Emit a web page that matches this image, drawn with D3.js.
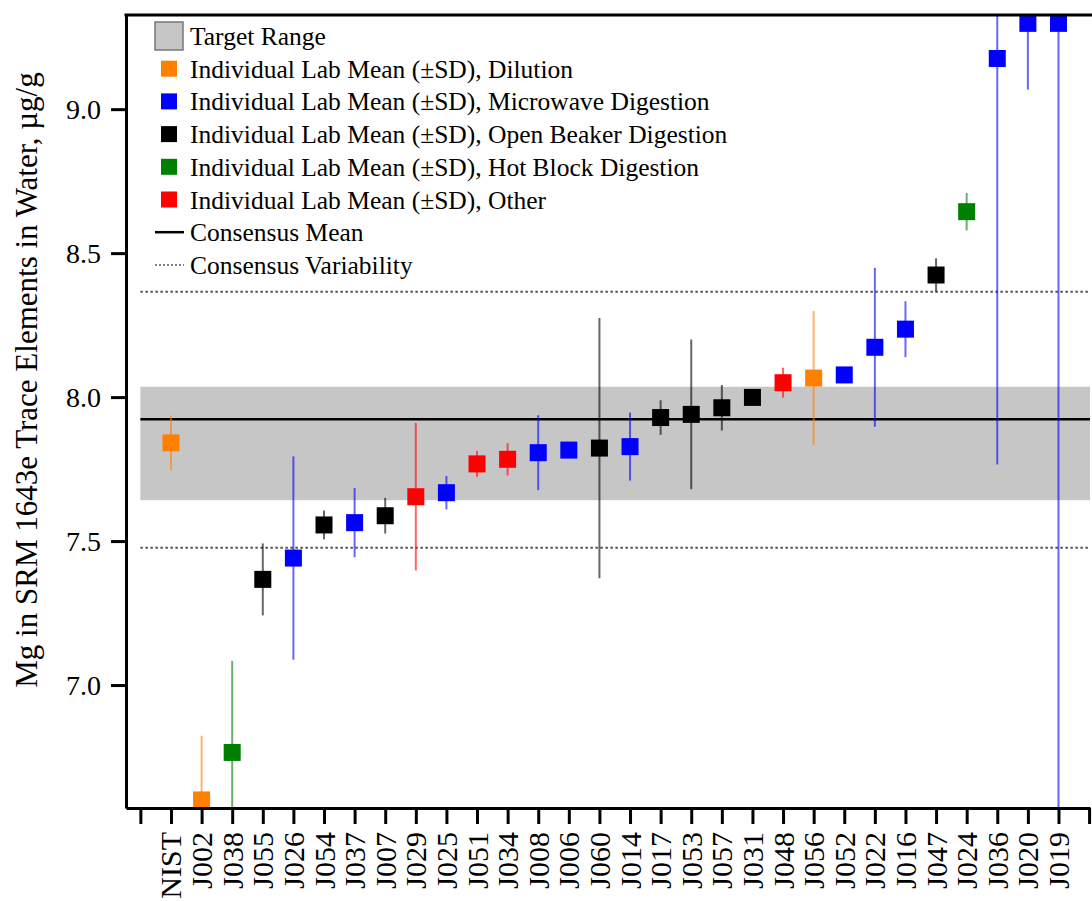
<!DOCTYPE html>
<html>
<head>
<meta charset="utf-8">
<script src="https://cdn.jsdelivr.net/npm/d3@7"></script>
<style>
  html, body { margin: 0; padding: 0; background: #fff; }
  svg { display: block; font-family: "Liberation Serif", "Times New Roman", serif; }
</style>
</head>
<body>
<svg id="chart" width="1092" height="901"></svg>
<script>
// ---- Data ----
const labs = ["NIST","J002","J038","J055","J026","J054","J037","J007","J029","J025",
  "J051","J034","J008","J006","J060","J014","J017","J053","J057","J031",
  "J048","J056","J052","J022","J016","J047","J024","J036","J020","J019"];
const methods = ["Dilution","Dilution","Hot Block","Open Beaker","Microwave","Open Beaker","Microwave","Open Beaker","Other","Microwave",
  "Other","Other","Microwave","Microwave","Open Beaker","Microwave","Open Beaker","Open Beaker","Open Beaker","Open Beaker",
  "Other","Dilution","Microwave","Microwave","Microwave","Open Beaker","Hot Block","Microwave","Microwave","Microwave"];
const means = [7.841,6.601,6.766,7.367,7.441,7.556,7.564,7.588,7.654,7.668,
  7.768,7.784,7.807,7.816,7.823,7.828,7.929,7.940,7.963,7.999,
  8.050,8.066,8.077,8.173,8.236,8.424,8.644,9.176,9.298,9.298];
const sds = [0.095,0.223,0.318,0.125,0.353,0.050,0.120,0.062,0.256,0.058,
  0.045,0.056,0.130,0.010,0.452,0.118,0.060,0.260,0.079,0.010,
  0.052,0.233,0.010,0.276,0.097,0.058,0.065,1.410,0.230,3.000];

const methodNames = ["Dilution","Microwave","Open Beaker","Hot Block","Other"];
const methodColors = ["#ff8000","#0000ff","#000000","#008000","#ff0000"];
const legendLabels = ["Individual Lab Mean (\u00B1SD), Dilution",
  "Individual Lab Mean (\u00B1SD), Microwave Digestion",
  "Individual Lab Mean (\u00B1SD), Open Beaker Digestion",
  "Individual Lab Mean (\u00B1SD), Hot Block Digestion",
  "Individual Lab Mean (\u00B1SD), Other"];

const targetRange = [7.642, 8.036];
const consensusMean = 7.923;
const consensusVar = [7.477, 8.366];
const yTicks = [7.0, 7.5, 8.0, 8.5, 9.0];
const yLabel = "Mg in SRM 1643e Trace Elements in Water, \u00B5g/g";

// ---- Layout ----
const svg = d3.select("#chart");
const L = 126, R = 1090, T = 15, B = 808;
const x = d3.scaleLinear().domain([-1.47, 30.03]).range([L, R]);
const y = d3.scaleLinear().domain([6.573, 9.327]).range([B, T]);
const color = d3.scaleOrdinal().domain(methodNames).range(methodColors);

svg.append("defs").append("clipPath").attr("id","clip")
  .append("rect").attr("x", L).attr("y", T).attr("width", R - L).attr("height", B - T);

const plot = svg.append("g").attr("clip-path","url(#clip)");
const x0 = x(-1), x1 = R;

// target range band
plot.append("rect")
  .attr("x", x0).attr("width", x1 - x0)
  .attr("y", y(targetRange[1])).attr("height", y(targetRange[0]) - y(targetRange[1]))
  .attr("fill", "#c6c6c6");

// consensus variability
plot.selectAll("line.var").data(consensusVar).join("line")
  .attr("class","var")
  .attr("x1", x0).attr("x2", x1)
  .attr("y1", d => y(d)).attr("y2", d => y(d))
  .attr("stroke", "#555").attr("stroke-width", 2).attr("stroke-dasharray", "2.5,2.5");

// consensus mean
plot.append("line")
  .attr("x1", x0).attr("x2", x1)
  .attr("y1", y(consensusMean)).attr("y2", y(consensusMean))
  .attr("stroke", "#000").attr("stroke-width", 2.5);

const data = labs.map((lab, i) => ({lab, i, method: methods[i], mean: means[i], sd: sds[i]}));

// error bars
plot.selectAll("line.err").data(data).join("line")
  .attr("class","err")
  .attr("x1", d => x(d.i)).attr("x2", d => x(d.i))
  .attr("y1", d => y(d.mean - d.sd)).attr("y2", d => y(d.mean + d.sd))
  .attr("stroke", d => color(d.method)).attr("stroke-width", 2).attr("stroke-opacity", 0.6);

// markers
const ms = 17;
plot.selectAll("rect.mk").data(data).join("rect")
  .attr("class","mk")
  .attr("x", d => x(d.i) - ms/2).attr("y", d => y(d.mean) - ms/2)
  .attr("width", ms).attr("height", ms)
  .attr("fill", d => color(d.method));

// ---- Axes ----
const xAxis = d3.axisBottom(x)
  .tickValues(d3.range(-1, 31))
  .tickSize(16).tickSizeOuter(0)
  .tickFormat(d => (d >= 0 && d < labs.length) ? labs[d] : "");
const gx = svg.append("g").attr("transform", `translate(0,${B})`).call(xAxis);
gx.select(".domain").attr("stroke-width", 3);
gx.selectAll(".tick line").attr("stroke-width", 3);
gx.selectAll(".tick text")
  .attr("font-size", 30).attr("font-family", "Liberation Serif, serif").attr("fill", "#000")
  .attr("text-anchor", "end")
  .attr("dy", null)
  .attr("y", 0)
  .attr("transform", "translate(10,24) rotate(-90)");

const yAxis = d3.axisLeft(y).tickValues(yTicks).tickSize(15).tickSizeOuter(0).tickFormat(d3.format(".1f"));
const gy = svg.append("g").attr("transform", `translate(${L},0)`).call(yAxis);
gy.select(".domain").attr("stroke-width", 3);
gy.selectAll(".tick line").attr("stroke-width", 3);
gy.selectAll(".tick text")
  .attr("font-size", 28).attr("font-family", "Liberation Serif, serif").attr("fill", "#000")
  .attr("x", -25);

// top border
svg.append("line").attr("x1", L - 1.5).attr("x2", 1092).attr("y1", T).attr("y2", T)
  .attr("stroke", "#000").attr("stroke-width", 3);

// y label
svg.append("text")
  .attr("transform", "translate(37,380) rotate(-90)")
  .attr("text-anchor", "middle")
  .attr("font-size", 31)
  .attr("fill", "#000")
  .text(yLabel);

// ---- Legend ----
const lg = svg.append("g");
const rowY = i => 36 + i * 32.7;
const fs = 25.5;
lg.append("rect").attr("x", 155).attr("y", rowY(0) - 14).attr("width", 28).attr("height", 28)
  .attr("fill", "#c6c6c6").attr("stroke", "#777").attr("stroke-width", 1.5);
lg.append("text").attr("x", 190).attr("y", rowY(0) + 9).attr("font-size", fs).text("Target Range");
methodNames.forEach((m, k) => {
  const cy = rowY(k + 1);
  lg.append("rect").attr("x", 161).attr("y", cy - 8).attr("width", 16).attr("height", 16).attr("fill", color(m));
  lg.append("text").attr("x", 190).attr("y", cy + 9).attr("font-size", fs).text(legendLabels[k]);
});
lg.append("line").attr("x1", 155).attr("x2", 184).attr("y1", rowY(6)).attr("y2", rowY(6))
  .attr("stroke", "#000").attr("stroke-width", 2.5);
lg.append("text").attr("x", 190).attr("y", rowY(6) + 9).attr("font-size", fs).text("Consensus Mean");
lg.append("line").attr("x1", 155).attr("x2", 184).attr("y1", rowY(7)).attr("y2", rowY(7))
  .attr("stroke", "#555").attr("stroke-width", 1.5).attr("stroke-dasharray", "2,2");
lg.append("text").attr("x", 190).attr("y", rowY(7) + 9).attr("font-size", fs).text("Consensus Variability");
</script>
</body>
</html>
